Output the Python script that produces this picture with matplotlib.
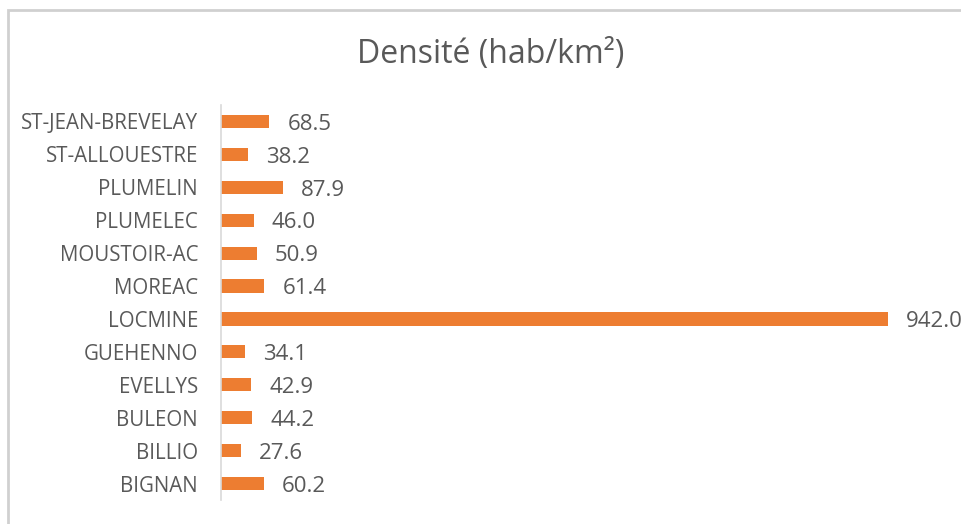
import numpy as np
import matplotlib
matplotlib.use('Agg')
import matplotlib.pyplot as plt
from matplotlib.patches import Rectangle

communes = ['BIGNAN', 'BILLIO', 'BULEON', 'EVELLYS', 'GUEHENNO', 'LOCMINE',
            'MOREAC', 'MOUSTOIR-AC', 'PLUMELEC', 'PLUMELIN', 'ST-ALLOUESTRE',
            'ST-JEAN-BREVELAY']
densite = [60.2, 27.6, 44.2, 42.9, 34.1, 942.0, 61.4, 50.9, 46.0, 87.9, 38.2, 68.5]
title = 'Densité (hab/km²)'

plt.rcParams['font.family'] = ['Open Sans', 'DejaVu Sans']
grey = '#595959'
bar_col = '#ED7D31'

fig = plt.figure(figsize=(9.62, 5.24), dpi=100)
W, H = 962., 524.

# outer chart frame (partly cut off on the right/bottom)
fig.patches.append(Rectangle((8/W, -0.1), 1.2, (H-10)/H + 0.1, transform=fig.transFigure,
                             fill=False, edgecolor='#d0d0d0', linewidth=2))

ax = fig.add_axes([221/W, 24/H, (W-221)/W, (500-105)/H])
y = np.arange(len(communes))
ax.barh(y, densite, height=0.4, color=bar_col)
ax.set_ylim(-0.5, len(communes) - 0.5)
ax.set_xlim(0, (W - 222) / 0.707)
ax.set_yticks(y)
ax.set_yticklabels(communes, fontsize=14.8, color=grey)
ax.tick_params(axis='y', length=0, pad=16.5)
ax.set_xticks([])
for s in ['top', 'right', 'bottom']:
    ax.spines[s].set_visible(False)
ax.spines['left'].set_color('#d9d9d9')
ax.spines['left'].set_linewidth(1.2)

for yi, v in zip(y, densite):
    ax.annotate('%.1f' % v, (v, yi), xytext=(13, -2), textcoords='offset points',
                va='center', ha='left', fontsize=16, color=grey, annotation_clip=False)

fig.text(491/W, 1 - 54/H, title, ha='center', va='center', fontsize=23, color=grey)

fig.savefig('out.png', dpi=100, facecolor='white')
